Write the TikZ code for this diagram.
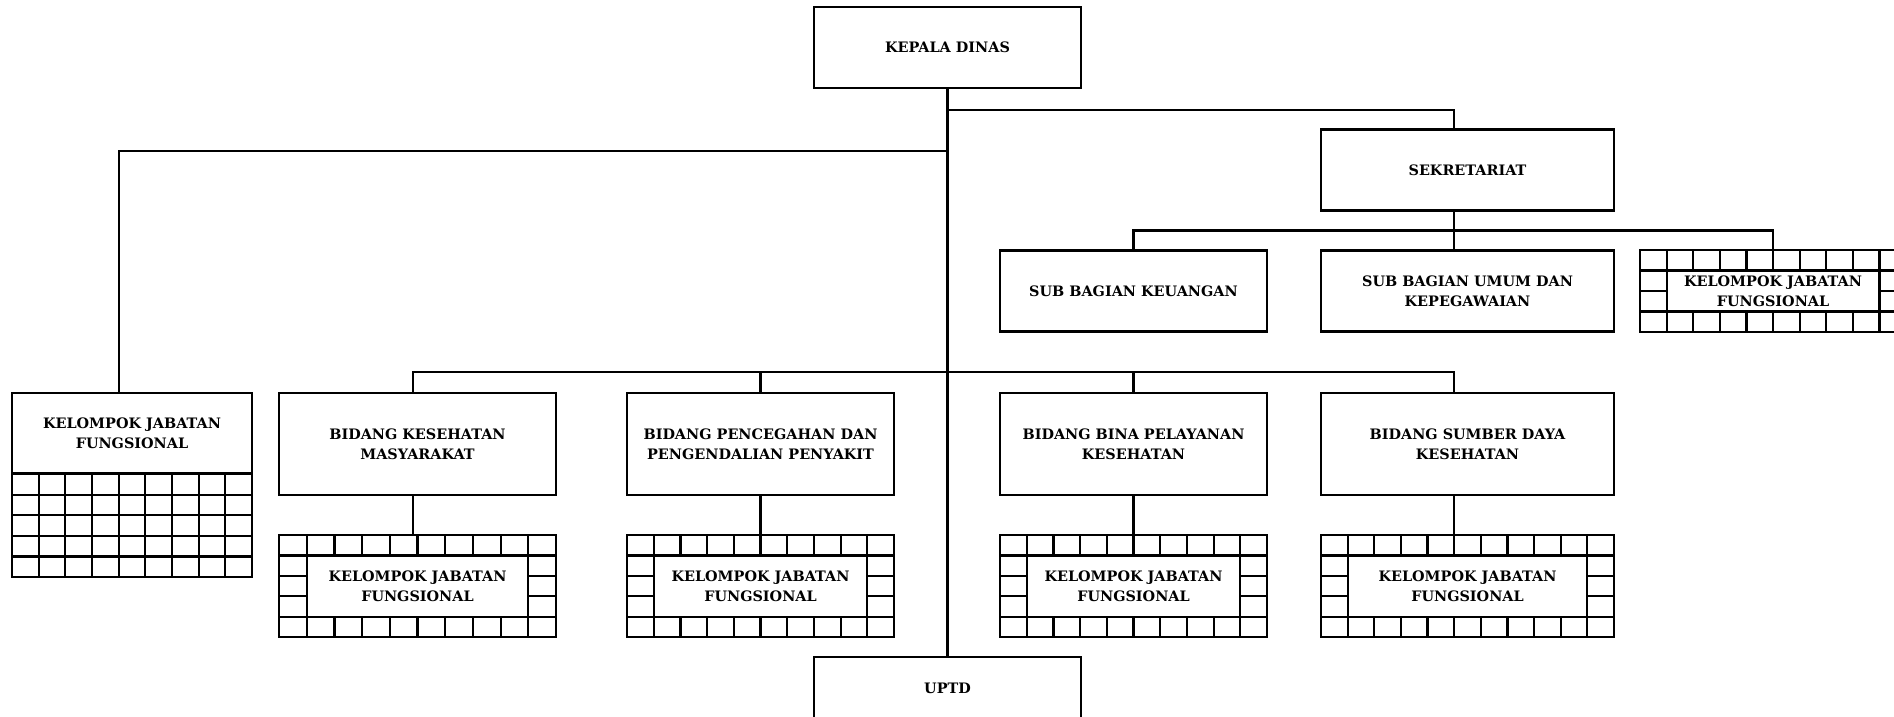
\documentclass[tikz,border=0pt]{standalone}
\usepackage{fontspec}
\setmainfont{DejaVu Serif}
\usetikzlibrary{calc}

\begin{document}
\begin{tikzpicture}[
    line width=1.25pt,
    kotak/.style={draw, align=center, inner sep=1pt, font=\fontsize{8.2}{11.4}\selectfont\bfseries, minimum width=5.34cm, minimum height=1.62cm},
    kotak_lebar/.style={kotak, minimum width=5.86cm},
    bidang/.style={kotak, minimum height=2.04cm},
    bingkai/.style={draw, minimum height=2.04cm, inner sep=0pt, outer sep=0pt},
    jabfung/.style={kotak, fill=white}
]
    \useasboundingbox (0,0) rectangle (37.88,-14.32);

    % pimpinan dan sekretariat
    \node[kotak] (kadis) at (18.95,-0.95) {KEPALA DINAS};
    \node[kotak_lebar] (sekre) at (29.35,-3.40) {SEKRETARIAT};
    \node[kotak] (keu) at (22.67,-5.82) {SUB BAGIAN KEUANGAN};
    \node[kotak_lebar] (umum) at (29.35,-5.82) {SUB BAGIAN UMUM DAN\\KEPEGAWAIAN};

    \node[bingkai, minimum width=5.32cm, minimum height=1.64cm] (kjfsek) at (35.46,-5.82) {};
    \draw[shift={(kjfsek.south west)}, xstep=0.532, ystep=0.41] (0,0) grid (5.32,1.64);
    \node[jabfung, minimum width=4.256cm, minimum height=0.82cm] (kjfsek_t) at (kjfsek) {KELOMPOK JABATAN\\FUNGSIONAL};

    % kelompok jabatan fungsional kiri
    \node[kotak, minimum width=4.80cm, minimum height=1.60cm] (kjfkiri) at (2.64,-8.66) {KELOMPOK JABATAN\\FUNGSIONAL};
    \node[bingkai, minimum width=4.80cm, minimum height=2.06cm, anchor=north] (kjfkiri_g) at (kjfkiri.south) {};
    \draw[shift={(kjfkiri_g.south west)}, xstep=0.5333, ystep=0.412] (0,0) grid (4.80,2.06);

    % bidang
    \node[bidang, minimum width=5.54cm] (bkm) at (8.35,-8.88) {BIDANG KESEHATAN\\MASYARAKAT};
    \node[bidang] (bppp) at (15.21,-8.88) {BIDANG PENCEGAHAN DAN\\PENGENDALIAN PENYAKIT};
    \node[bidang] (bbpk) at (22.67,-8.88) {BIDANG BINA PELAYANAN\\KESEHATAN};
    \node[bidang, minimum width=5.86cm] (bsdk) at (29.35,-8.88) {BIDANG SUMBER DAYA\\KESEHATAN};

    \foreach \nm/\cx/\w/\nk/\dx in {bkm/8.35/5.54/10/-0.09, bppp/15.21/5.34/10/0, bbpk/22.67/5.34/10/0, bsdk/29.35/5.86/11/-0.27}{
        \pgfmathsetmacro{\lk}{\w/\nk}
        \pgfmathsetmacro{\ldalam}{\w-2*\lk}
        \node[bingkai, minimum width=\w cm] (kjf\nm) at (\cx,-11.72) {};
        \draw[shift={(kjf\nm.south west)}, xstep=\lk, ystep=0.408] (0,0) grid (\w,2.04);
        \node[jabfung, minimum width=\ldalam cm, minimum height=1.224cm] (kjf\nm_t) at (kjf\nm) {KELOMPOK JABATAN\\FUNGSIONAL};
        \draw ([xshift=\dx cm]\nm.south) -- ([xshift=\dx cm]kjf\nm.north);
    }

    \node[kotak, minimum height=1.24cm] (uptd) at (18.95,-13.76) {UPTD};

    % garis komando
    \draw (kadis) -- (uptd);
    \draw ([yshift=-0.42cm]kadis.south) -| ([xshift=-0.27cm]sekre.north);
    \draw ([yshift=-1.24cm]kadis.south) -| ([xshift=-0.26cm]kjfkiri.north);
    \draw ([xshift=-0.27cm]sekre.south) -- ([xshift=-0.27cm]umum.north);
    \draw (keu.north) |- ([yshift=0.39cm]kjfsek.north) -- (kjfsek.north);
    \draw ([xshift=-0.09cm]bkm.north) |- ([xshift=-0.27cm,yshift=0.40cm]bsdk.north) -- ([xshift=-0.27cm]bsdk.north);
    \draw (bppp.north) -- ++(0,0.40);
    \draw (bbpk.north) -- ++(0,0.40);
\end{tikzpicture}
\end{document}
